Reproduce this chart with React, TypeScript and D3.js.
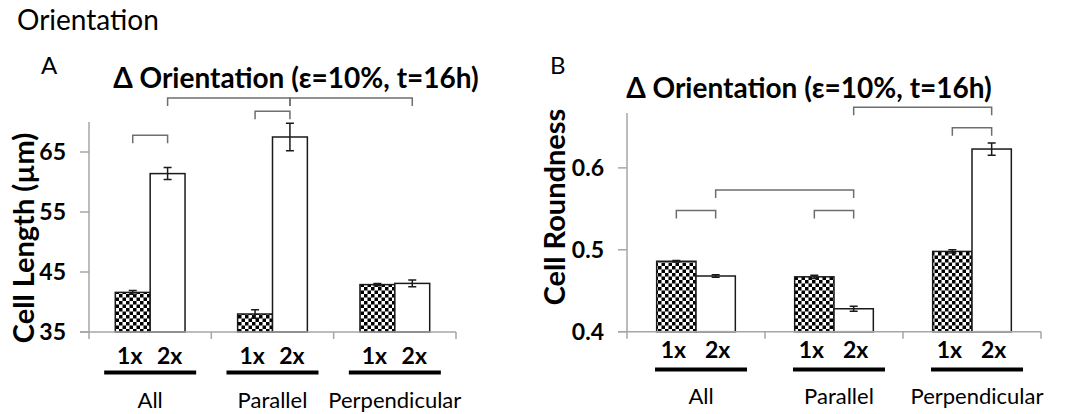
import React, { useEffect, useRef } from 'react';
import * as d3 from 'd3';

// categories and series
const categories = ['All', 'Parallel', 'Perpendicular'];
const seriesNames = ['1x', '2x'];

// panel A: cell length (µm)
const lengthMean1x = [41.6, 38.0, 42.9];
const lengthMean2x = [61.4, 67.5, 43.1];
const lengthErr1x = [0.3, 0.7, 0.2];
const lengthErr2x = [1.0, 2.3, 0.55];
const lengthTicks = [35, 45, 55, 65];

// panel B: cell roundness
const roundMean1x = [0.486, 0.467, 0.498];
const roundMean2x = [0.468, 0.428, 0.623];
const roundErr1x = [0.001, 0.002, 0.002];
const roundErr2x = [0.0015, 0.003, 0.0075];
const roundTicks = [0.4, 0.5, 0.6];

// significance brackets: [fromCat, fromSeries, toCat, toSeries, level]
const lengthBrackets = [
  [0, 0, 0, 1, 67.8],
  [1, 0, 1, 1, 71.8],
  [0, 1, 1, 1, 74.0],
  [1, 1, 2, 1, 74.0],
];
const roundBrackets = [
  [0, 0, 0, 1, 0.548],
  [1, 0, 1, 1, 0.548],
  [0, 1, 1, 1, 0.573],
  [2, 0, 2, 1, 0.649],
  [1, 1, 2, 1, 0.674],
];

const FONT = 'Lato, "Open Sans", sans-serif';

function drawPanel(root, cfg) {
  const { left, right, top, bottom, domain, ticks, fmt, means, errs, brackets } = cfg;

  const x = d3.scaleBand().domain(categories).range([left, right]).paddingInner(0.43).paddingOuter(0.215);
  const xs = d3.scaleBand().domain(seriesNames).range([0, x.bandwidth()]);
  const y = d3.scaleLinear().domain(domain).range([bottom, top]);

  const g = root.append('g');
  const cx = (c, s) => x(categories[c]) + xs(seriesNames[s]) + xs.bandwidth() / 2;

  // brackets
  brackets.forEach(([c0, s0, c1, s1, lvl]) => {
    const x0 = cx(c0, s0), x1 = cx(c1, s1), yy = y(lvl);
    g.append('path')
      .attr('d', `M${x0},${yy + 8}V${yy}H${x1}V${yy + 8}`)
      .attr('fill', 'none')
      .attr('stroke', '#6e6e6e')
      .attr('stroke-width', 1.5);
  });

  // bars
  categories.forEach((cat, ci) => {
    seriesNames.forEach((s, si) => {
      const v = means[si][ci];
      const e = errs[si][ci];
      const bx = x(cat) + xs(s);
      g.append('rect')
        .attr('x', bx)
        .attr('y', y(v))
        .attr('width', xs.bandwidth())
        .attr('height', bottom - y(v))
        .attr('fill', si === 0 ? 'url(#checker)' : '#fff')
        .attr('stroke', '#1a1a1a')
        .attr('stroke-width', 1.5);
      const mx = bx + xs.bandwidth() / 2;
      g.append('path')
        .attr('d', `M${mx},${y(v - e)}V${y(v + e)}M${mx - 4},${y(v + e)}H${mx + 4}M${mx - 4},${y(v - e)}H${mx + 4}`)
        .attr('stroke', '#1a1a1a')
        .attr('stroke-width', 1.5)
        .attr('fill', 'none');
    });
  });

  // axes
  g.append('line')
    .attr('x1', left).attr('x2', left).attr('y1', top).attr('y2', bottom)
    .attr('stroke', '#a6a6a6').attr('stroke-width', 1.5);
  g.append('line')
    .attr('x1', left - 9).attr('x2', right).attr('y1', bottom).attr('y2', bottom)
    .attr('stroke', '#a6a6a6').attr('stroke-width', 1.5);
  ticks.forEach(t => {
    g.append('line')
      .attr('x1', left - 9).attr('x2', left).attr('y1', y(t)).attr('y2', y(t))
      .attr('stroke', '#a6a6a6').attr('stroke-width', 1.5);
    g.append('text')
      .attr('x', left - 23).attr('y', y(t)).attr('dy', '0.35em')
      .attr('text-anchor', 'end')
      .attr('font-family', FONT).attr('font-weight', 'bold').attr('font-size', 23)
      .text(fmt(t));
  });
  const step = (right - left) / categories.length;
  d3.range(categories.length + 1).forEach(i => {
    g.append('line')
      .attr('x1', left + i * step).attr('x2', left + i * step)
      .attr('y1', bottom).attr('y2', bottom + 7)
      .attr('stroke', '#a6a6a6').attr('stroke-width', 1.5);
  });

  // category labels
  categories.forEach((cat, ci) => {
    const c = x(cat) + x.bandwidth() / 2;
    seriesNames.forEach((s, si) => {
      g.append('text')
        .attr('x', cx(ci, si) + (si === 0 ? -3 : 2)).attr('y', cfg.subY)
        .attr('text-anchor', 'middle')
        .attr('font-family', FONT).attr('font-weight', 'bold').attr('font-size', 23)
        .text(s);
    });
    g.append('rect')
      .attr('x', c - 46 + cfg.lineDx).attr('y', cfg.lineY - 2)
      .attr('width', 92).attr('height', 4)
      .attr('fill', '#000');
    g.append('text')
      .attr('x', c + cfg.lineDx).attr('y', cfg.catY)
      .attr('text-anchor', 'middle')
      .attr('font-family', FONT).attr('font-size', 22)
      .text(cat);
  });

  // y label
  g.append('text')
    .attr('transform', `translate(${cfg.ylabX},${cfg.ylabY}) rotate(-90)`)
    .attr('text-anchor', 'middle')
    .attr('font-family', FONT).attr('font-weight', 'bold').attr('font-size', 29)
    .text(cfg.ylabel);

  // title
  g.append('text')
    .attr('x', cfg.titleX).attr('y', cfg.titleY)
    .attr('text-anchor', 'middle')
    .attr('font-family', FONT).attr('font-weight', 'bold').attr('font-size', 28)
    .text('Δ Orientation (ε=10%, t=16h)');

  // panel letter
  g.append('text')
    .attr('x', cfg.letterX).attr('y', 74)
    .attr('font-family', FONT).attr('font-size', 24)
    .text(cfg.letter);
}

function App() {
  const svgRef = useRef();

  useEffect(() => {
    const svg = d3.select(svgRef.current);
    svg.selectAll('*').remove();

    const defs = svg.append('defs');
    const pat = defs.append('pattern')
      .attr('id', 'checker')
      .attr('patternUnits', 'userSpaceOnUse')
      .attr('width', 7).attr('height', 7);
    pat.append('rect').attr('width', 7).attr('height', 7).attr('fill', '#fff');
    pat.append('rect').attr('width', 3.5).attr('height', 3.5).attr('fill', '#000');
    pat.append('rect').attr('x', 3.5).attr('y', 3.5).attr('width', 3.5).attr('height', 3.5).attr('fill', '#000');

    svg.append('text')
      .attr('x', 17).attr('y', 30)
      .attr('font-family', FONT).attr('font-size', 28)
      .text('Orientation');

    drawPanel(svg, {
      left: 89, right: 456, top: 122, bottom: 332,
      domain: [35, 70], ticks: lengthTicks, fmt: d3.format('d'),
      means: [lengthMean1x, lengthMean2x], errs: [lengthErr1x, lengthErr2x],
      brackets: lengthBrackets,
      subY: 364, lineY: 372.5, catY: 408, lineDx: 0,
      ylabel: 'Cell Length (µm)', ylabX: 34, ylabY: 238,
      titleX: 296, titleY: 88, letter: 'A', letterX: 41,
    });

    drawPanel(svg, {
      left: 627, right: 1041, top: 113, bottom: 331.7,
      domain: [0.4, 0.667], ticks: roundTicks, fmt: d3.format('.1f'),
      means: [roundMean1x, roundMean2x], errs: [roundErr1x, roundErr2x],
      brackets: roundBrackets,
      subY: 358, lineY: 369.5, catY: 404, lineDx: 5,
      ylabel: 'Cell Roundness', ylabX: 565, ylabY: 207,
      titleX: 809, titleY: 98, letter: 'B', letterX: 550,
    });
  }, []);

  return (
    <svg ref={svgRef} width={1078} height={414}
      style={{ position: 'absolute', left: 0, top: 0, background: '#fff' }} />
  );
}

export default App;
